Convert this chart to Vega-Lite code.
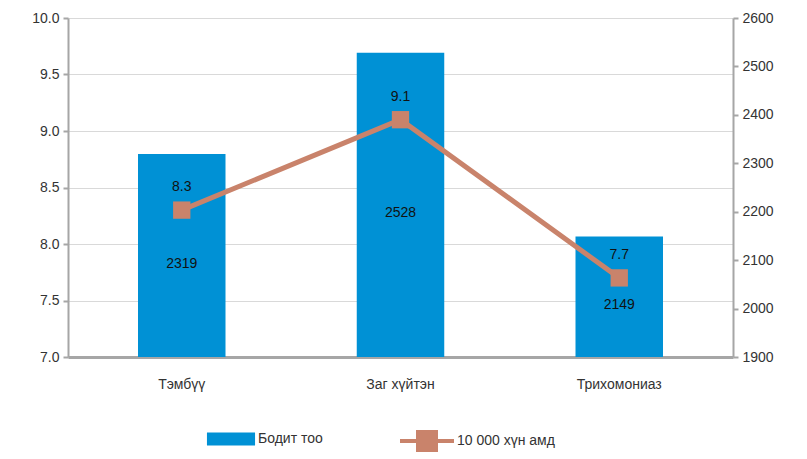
{
  "$schema": "https://vega.github.io/schema/vega-lite/v6.json",
  "width": 665,
  "height": 339,
  "autosize": "none",
  "padding": {"left": 68, "top": 18, "right": 74, "bottom": 102},
  "background": "white",
  "config": {
    "font": "Liberation Sans",
    "view": {"stroke": null},
    "axis": {"labelFont": "Liberation Sans", "labelFontSize": 14, "labelColor": "#333333", "domainColor": "#A6A6A6", "tickColor": "#A6A6A6"},
    "legend": {"labelFont": "Liberation Sans", "labelFontSize": 14, "labelColor": "#333333", "padding": 0}
  },
  "data": {
    "values": [
      {"cat": "Тэмбүү", "count": 2319, "rate": 8.3},
      {"cat": "Заг хүйтэн", "count": 2528, "rate": 9.1},
      {"cat": "Трихомониаз", "count": 2149, "rate": 7.7}
    ]
  },
  "encoding": {
    "x": {
      "field": "cat", "type": "nominal", "sort": null,
      "scale": {"paddingInner": 0.6, "paddingOuter": 0.32},
      "axis": {"title": null, "labelAngle": 0, "ticks": false, "domainWidth": 3, "labelPadding": 20}
    }
  },
  "layer": [
    {
      "mark": {"type": "bar"},
      "encoding": {
        "y": {
          "field": "count", "type": "quantitative",
          "scale": {"domain": [1900, 2600], "zero": false, "nice": false},
          "axis": {"orient": "right", "title": null, "values": [1900, 2000, 2100, 2200, 2300, 2400, 2500, 2600], "labelOverlap": false, "grid": false, "domainWidth": 2, "tickSize": 5, "tickWidth": 2, "labelPadding": 4, "format": "d"}
        },
        "y2": {"datum": 1900},
        "fill": {"datum": "Бодит тоо", "type": "nominal", "scale": {"range": ["#0091D5"]},
          "legend": {"title": null, "orient": "none", "legendX": 156, "legendY": 414, "symbolType": "M-3.7,-1H3.7V1H-3.7Z", "symbolSize": 169, "symbolStrokeWidth": 0, "labelOffset": 20}}
      }
    },
    {
      "encoding": {
        "y": {
          "field": "rate", "type": "quantitative",
          "scale": {"domain": [7, 10], "zero": false, "nice": false},
          "axis": {"orient": "left", "title": null, "values": [7, 7.5, 8, 8.5, 9, 9.5, 10], "format": ".1f", "grid": true, "gridColor": "#D9D9D9", "gridWidth": 1, "domainWidth": 2, "tickSize": 5, "tickWidth": 2, "labelPadding": 4}
        }
      },
      "layer": [
        {
          "mark": {"type": "line", "strokeWidth": 5},
          "encoding": {
            "stroke": {"datum": "10 000 хүн амд", "type": "nominal", "scale": {"range": ["#C9836B"]},
              "legend": {"title": null, "orient": "none", "legendX": 348, "legendY": 412, "symbolType": "M-3,0H3M-1,-1H1V1H-1Z", "symbolSize": 324, "symbolFillColor": "#C9836B", "symbolStrokeColor": "#C9836B", "symbolStrokeWidth": 4, "labelOffset": 19}}
          }
        },
        {
          "mark": {"type": "point", "shape": "square", "filled": true, "size": 300, "color": "#C9836B", "opacity": 1},
          "encoding": {}
        },
        {
          "mark": {"type": "text", "fontSize": 14, "color": "#111111", "dy": -23, "font": "Liberation Sans"},
          "encoding": {
            "text": {"field": "rate", "type": "quantitative", "format": ".1f"}
          }
        }
      ]
    },
    {
      "mark": {"type": "text", "fontSize": 14, "color": "#111111", "font": "Liberation Sans", "dy": 8},
      "encoding": {
        "y": {"field": "count", "type": "quantitative", "scale": {"domain": [1900, 3300], "zero": false, "nice": false}, "axis": null},
        "text": {"field": "count", "type": "quantitative", "format": "d"}
      }
    }
  ],
  "resolve": {"scale": {"y": "independent", "fill": "independent", "stroke": "independent"}}
}
